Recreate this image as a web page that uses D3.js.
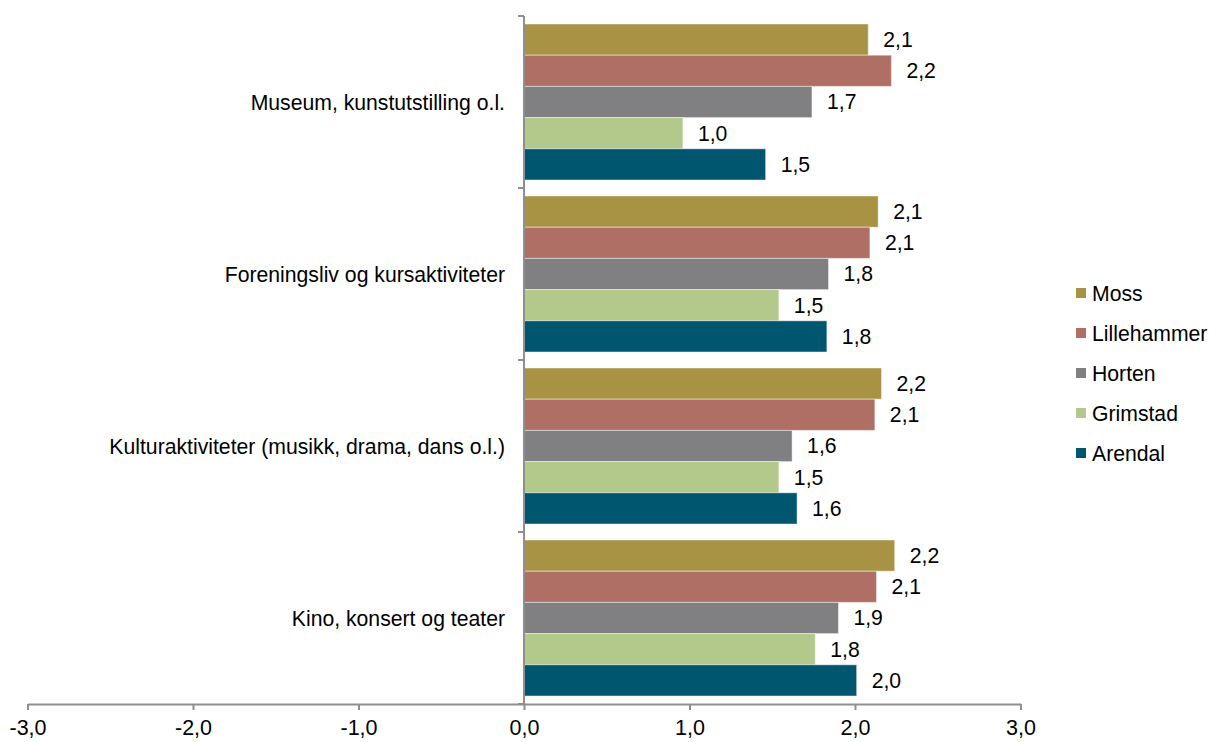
<!DOCTYPE html>
<html>
<head>
<meta charset="utf-8">
<script src="https://cdn.jsdelivr.net/npm/d3@7/dist/d3.min.js"></script>
<style>
  html, body { margin: 0; padding: 0; background: #fff; }
  svg { display: block; font-family: "Liberation Sans", Arial, sans-serif; }
</style>
</head>
<body>
<svg id="chart" width="1209" height="742"></svg>
<script>
// Activity categories, top to bottom
const categories = [
  "Museum, kunstutstilling o.l.",
  "Foreningsliv og kursaktiviteter",
  "Kulturaktiviteter (musikk, drama, dans o.l.)",
  "Kino, konsert og teater"
];
// Towns, drawn top to bottom inside each group
const towns = ["Moss", "Lillehammer", "Horten", "Grimstad", "Arendal"];
const townColors = ["#A89344", "#AF6F65", "#808083", "#B3C98C", "#00566F"];

// Mean scores per town, one value per category
const moss        = [2.08, 2.14, 2.16, 2.24];
const lillehammer = [2.22, 2.09, 2.12, 2.13];
const horten      = [1.74, 1.84, 1.62, 1.90];
const grimstad    = [0.96, 1.54, 1.54, 1.76];
const arendal     = [1.46, 1.83, 1.65, 2.01];
const seriesValues = [moss, lillehammer, horten, grimstad, arendal];

const xTicks = [-3, -2, -1, 0, 1, 2, 3];
const xDomain = [-3, 3];

const FS = 21.2;
const svg = d3.select("#chart");
const fmt = v => v.toFixed(1).replace(".", ",");

const x = d3.scaleLinear().domain(xDomain).range([27.5, 1020.5]);
const y0 = d3.scaleBand().domain(categories).range([16, 704])
  .paddingInner(0.093).paddingOuter(0.0465);
const y1 = d3.scaleBand().domain(towns).range([0, y0.bandwidth()]);
const color = d3.scaleOrdinal().domain(towns).range(townColors);

const axisColor = "#8f8f8f";

// Bars
const groups = svg.append("g").selectAll("g")
  .data(categories)
  .join("g")
  .attr("transform", d => `translate(0,${y0(d)})`);

groups.selectAll("rect")
  .data((c, ci) => towns.map((t, ti) => ({ town: t, value: seriesValues[ti][ci] })))
  .join("rect")
  .attr("x", d => x(Math.min(0, d.value)))
  .attr("y", d => y1(d.town))
  .attr("width", d => Math.abs(x(d.value) - x(0)))
  .attr("height", y1.bandwidth())
  .attr("fill", d => color(d.town))
  .attr("stroke", "rgba(255,255,255,0.45)")
  .attr("stroke-width", 1);

// Value labels
groups.selectAll("text")
  .data((c, ci) => towns.map((t, ti) => ({ town: t, value: seriesValues[ti][ci] })))
  .join("text")
  .attr("x", d => x(d.value) + 15)
  .attr("y", d => y1(d.town) + y1.bandwidth() / 2 + 7.5)
  .attr("font-size", FS)
  .attr("fill", "#000")
  .text(d => fmt(d.value));

// X axis
const xAxis = svg.append("g").attr("transform", "translate(0,704)")
  .call(d3.axisBottom(x).tickValues(xTicks).tickSize(6).tickSizeOuter(0).tickFormat(fmt));
xAxis.select(".domain").attr("stroke", axisColor).attr("stroke-width", 2);
xAxis.selectAll(".tick line").attr("stroke", axisColor).attr("stroke-width", 2);
xAxis.selectAll(".tick text")
  .attr("font-size", 21.5).attr("fill", "#000")
  .attr("font-family", "'Liberation Sans', Arial, sans-serif")
  .attr("y", 31).attr("dy", 0);

// Y axis line with category boundary ticks
const yAxisG = svg.append("g");
yAxisG.append("line")
  .attr("x1", x(0)).attr("x2", x(0))
  .attr("y1", 16).attr("y2", 704)
  .attr("stroke", axisColor).attr("stroke-width", 2);
const boundaries = categories.map(c => y0(c) - y0.step() * y0.paddingInner() / 2)
  .concat([704]);
yAxisG.selectAll("line.b")
  .data(boundaries)
  .join("line")
  .attr("class", "b")
  .attr("x1", x(0) - 6).attr("x2", x(0))
  .attr("y1", d => d).attr("y2", d => d)
  .attr("stroke", axisColor).attr("stroke-width", 2);

// Category labels
svg.append("g").selectAll("text")
  .data(categories)
  .join("text")
  .attr("x", 505)
  .attr("y", d => y0(d) + y0.bandwidth() / 2 + 7.5)
  .attr("text-anchor", "end")
  .attr("font-size", FS)
  .attr("fill", "#000")
  .text(d => d);

// Legend
const legend = svg.append("g").selectAll("g")
  .data(towns)
  .join("g")
  .attr("transform", (d, i) => `translate(1076,${293 + i * 40})`);
legend.append("rect")
  .attr("x", 0).attr("y", -5).attr("width", 10).attr("height", 10)
  .attr("fill", d => color(d));
legend.append("text")
  .attr("x", 16).attr("y", 7.5)
  .attr("font-size", FS).attr("fill", "#000")
  .text(d => d);
</script>
</body>
</html>
